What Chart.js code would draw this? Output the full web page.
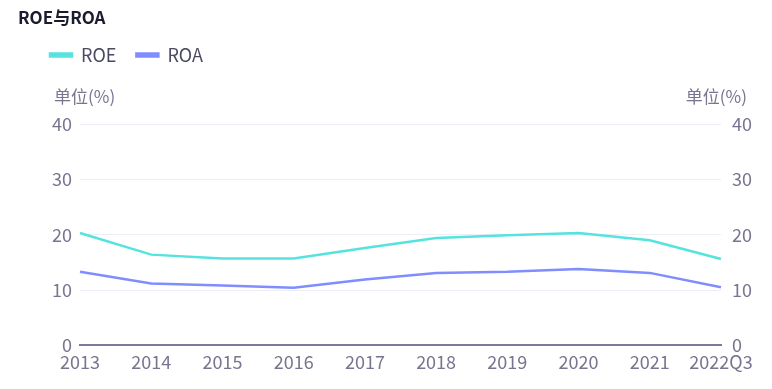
<!DOCTYPE html>
<html>
<head>
<meta charset="utf-8">
<script src="https://cdn.jsdelivr.net/npm/chart.js@4/dist/chart.umd.min.js"></script>
<style>
  html, body { margin: 0; padding: 0; background: #fff; }
  #wrap { width: 772px; height: 389px; position: relative; }
</style>
</head>
<body>
<div id="wrap"><canvas id="chart"></canvas></div>
<script>
const years = ['2013', '2014', '2015', '2016', '2017', '2018', '2019', '2020', '2021', '2022Q3']
const roe = [20.3, 16.4, 15.7, 15.7, 17.6, 19.4, 19.9, 20.3, 19.0, 15.6]
const roa = [13.3, 11.2, 10.8, 10.4, 11.9, 13.1, 13.3, 13.8, 13.1, 10.5]
const unitLabel = '单位(%)'

const fontFamily = '"Noto Sans CJK SC", "Noto Sans", sans-serif'
const tickColor = '#77758f'

// unit text above both y axes, and nudge the legend right a little
const extras = {
  id: 'extras',
  afterLayout(chart) {
    chart.legend.left += 12
    chart.legend.right += 12
  },
  afterDraw(chart) {
    const ctx = chart.ctx
    const area = chart.chartArea
    ctx.save()
    ctx.font = '17px ' + fontFamily
    ctx.fillStyle = tickColor
    ctx.textBaseline = 'middle'
    ctx.textAlign = 'left'
    ctx.fillText(unitLabel, 54, area.top - 27)
    ctx.textAlign = 'right'
    ctx.fillText(unitLabel, 747, area.top - 27)
    ctx.restore()
  },
}

new Chart(document.getElementById('chart'), {
  type: 'line',
  data: {
    labels: years,
    datasets: [
      {
        label: 'ROE',
        data: roe,
        borderColor: '#55e3e0',
        backgroundColor: '#55e3e0',
        borderWidth: 2.5,
        pointRadius: 0,
        yAxisID: 'y',
      },
      {
        label: 'ROA',
        data: roa,
        borderColor: '#7f8dff',
        backgroundColor: '#7f8dff',
        borderWidth: 2.5,
        pointRadius: 0,
        yAxisID: 'y',
      },
    ],
  },
  options: {
    responsive: true,
    maintainAspectRatio: false,
    animation: false,
    layout: { padding: { left: 18, right: 0, top: 0, bottom: 10 } },
    plugins: {
      title: {
        display: true,
        text: 'ROE与ROA',
        align: 'start',
        color: '#1c1c30',
        font: { family: fontFamily, size: 17, weight: 'bold', lineHeight: 1 },
        padding: { top: 9, bottom: 0 },
      },
      legend: {
        align: 'start',
        labels: {
          boxWidth: 22,
          boxHeight: 3,
          color: '#4b4a63',
          font: { family: fontFamily, size: 18 },
          padding: 20,
        },
      },
      tooltip: { enabled: false },
    },
    scales: {
      x: {
        grid: { display: false, drawTicks: false },
        border: { display: true, color: '#7c7a98', width: 2 },
        ticks: {
          color: tickColor,
          font: { family: fontFamily, size: 18 },
          padding: 6,
          maxRotation: 0,
          autoSkip: false,
        },
      },
      // empty top axis, only keeps room for the unit labels
      xTop: {
        position: 'top',
        grid: { display: false, drawTicks: false },
        border: { display: false },
        ticks: { display: false },
        afterFit(scale) { scale.height = 50 },
      },
      y: {
        position: 'left',
        min: 0,
        max: 40,
        grid: { color: '#edeef5', drawTicks: false },
        border: { display: false },
        ticks: {
          stepSize: 10,
          color: tickColor,
          font: { family: fontFamily, size: 18 },
          padding: 8,
        },
        afterFit(scale) { scale.width = 62 },
      },
      y2: {
        position: 'right',
        min: 0,
        max: 40,
        grid: { display: false, drawTicks: false },
        border: { display: false },
        ticks: {
          stepSize: 10,
          color: tickColor,
          font: { family: fontFamily, size: 18 },
          padding: 11,
        },
        afterFit(scale) { scale.width = 51 },
      },
    },
  },
  plugins: [extras],
})
</script>
</body>
</html>
